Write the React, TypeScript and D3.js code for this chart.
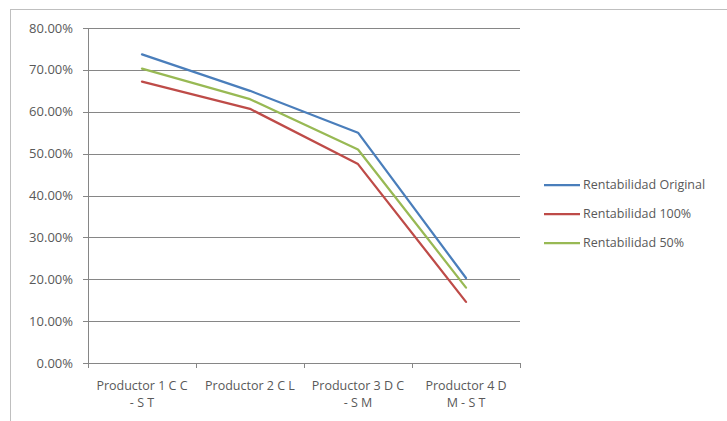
import React from "react";
import * as d3 from "d3";

const categories = [
  "Productor 1 C C - S T",
  "Productor 2 C L",
  "Productor 3 D C - S M",
  "Productor 4 D M - S T",
];
const categoryLines = [
  ["Productor 1 C C", "- S T"],
  ["Productor 2 C L"],
  ["Productor 3 D C", "- S M"],
  ["Productor 4 D", "M - S T"],
];
const seriesNames = ["Rentabilidad Original", "Rentabilidad 100%", "Rentabilidad 50%"];
const rentOriginal = [0.737, 0.65, 0.55, 0.203];
const rent100 = [0.672, 0.607, 0.475, 0.146];
const rent50 = [0.703, 0.63, 0.51, 0.18];
const yTicks = [0, 0.1, 0.2, 0.3, 0.4, 0.5, 0.6, 0.7, 0.8];

const colors = ["#4A7EBB", "#BE4B48", "#98B954"];
const seriesValues = [rentOriginal, rent100, rent50];

export default function App() {
  const W = 727, H = 421;
  const left = 88, right = 520, top = 28, bottom = 363;
  const x = d3.scaleBand<string>().domain(categories).range([left, right]).padding(0);
  const y = d3.scaleLinear().domain([0, 0.8]).range([bottom, top]);
  const fmt = (v: number) => (v * 100).toFixed(2) + "%";
  const line = d3
    .line<number>()
    .x((_, i) => (x(categories[i]) as number) + x.bandwidth() / 2)
    .y((v) => y(v));
  const font = "'Open Sans', sans-serif";
  const textColor = "#595959";
  const gridColor = "#868686";
  const legendY = [185, 214, 243];
  const xTicks = [...categories.map((c) => x(c) as number), right];

  return (
    <svg
      width={W}
      height={H}
      style={{ position: "absolute", left: 0, top: 0, background: "#fff" }}
      fontFamily={font}
    >
      <rect x={10.5} y={9.5} width={800} height={420} fill="#fff" stroke="#bfbfbf" strokeWidth={1} />
      {yTicks.map((t) => (
        <g key={t}>
          <line x1={left - 5} x2={right} y1={Math.round(y(t)) + 0.5} y2={Math.round(y(t)) + 0.5} stroke={gridColor} strokeWidth={1} />
          <text x={73} y={y(t)} dy="0.35em" textAnchor="end" fontSize={13} fill={textColor}>
            {fmt(t)}
          </text>
        </g>
      ))}
      <line x1={left + 0.5} x2={left + 0.5} y1={top} y2={bottom} stroke={gridColor} />
      {xTicks.map((tx, i) => (
        <line key={i} x1={Math.round(tx) + 0.5} x2={Math.round(tx) + 0.5} y1={bottom} y2={bottom + 5} stroke={gridColor} />
      ))}
      {categories.map((c, i) =>
        categoryLines[i].map((l, j) => (
          <text
            key={c + j}
            x={(x(c) as number) + x.bandwidth() / 2}
            y={390 + j * 17}
            textAnchor="middle"
            fontSize={12.5}
            fill={textColor}
          >
            {l}
          </text>
        ))
      )}
      {seriesValues.map((vals, i) => (
        <path key={i} d={line(vals) || ""} fill="none" stroke={colors[i]} strokeWidth={2.25} strokeLinejoin="round" strokeLinecap="round" />
      ))}
      {seriesNames.map((n, i) => (
        <g key={n}>
          <line x1={544} x2={580} y1={legendY[i]} y2={legendY[i]} stroke={colors[i]} strokeWidth={2.25} />
          <text x={583} y={legendY[i]} dy="0.35em" fontSize={12.5} fill={textColor}>
            {n}
          </text>
        </g>
      ))}
    </svg>
  );
}
